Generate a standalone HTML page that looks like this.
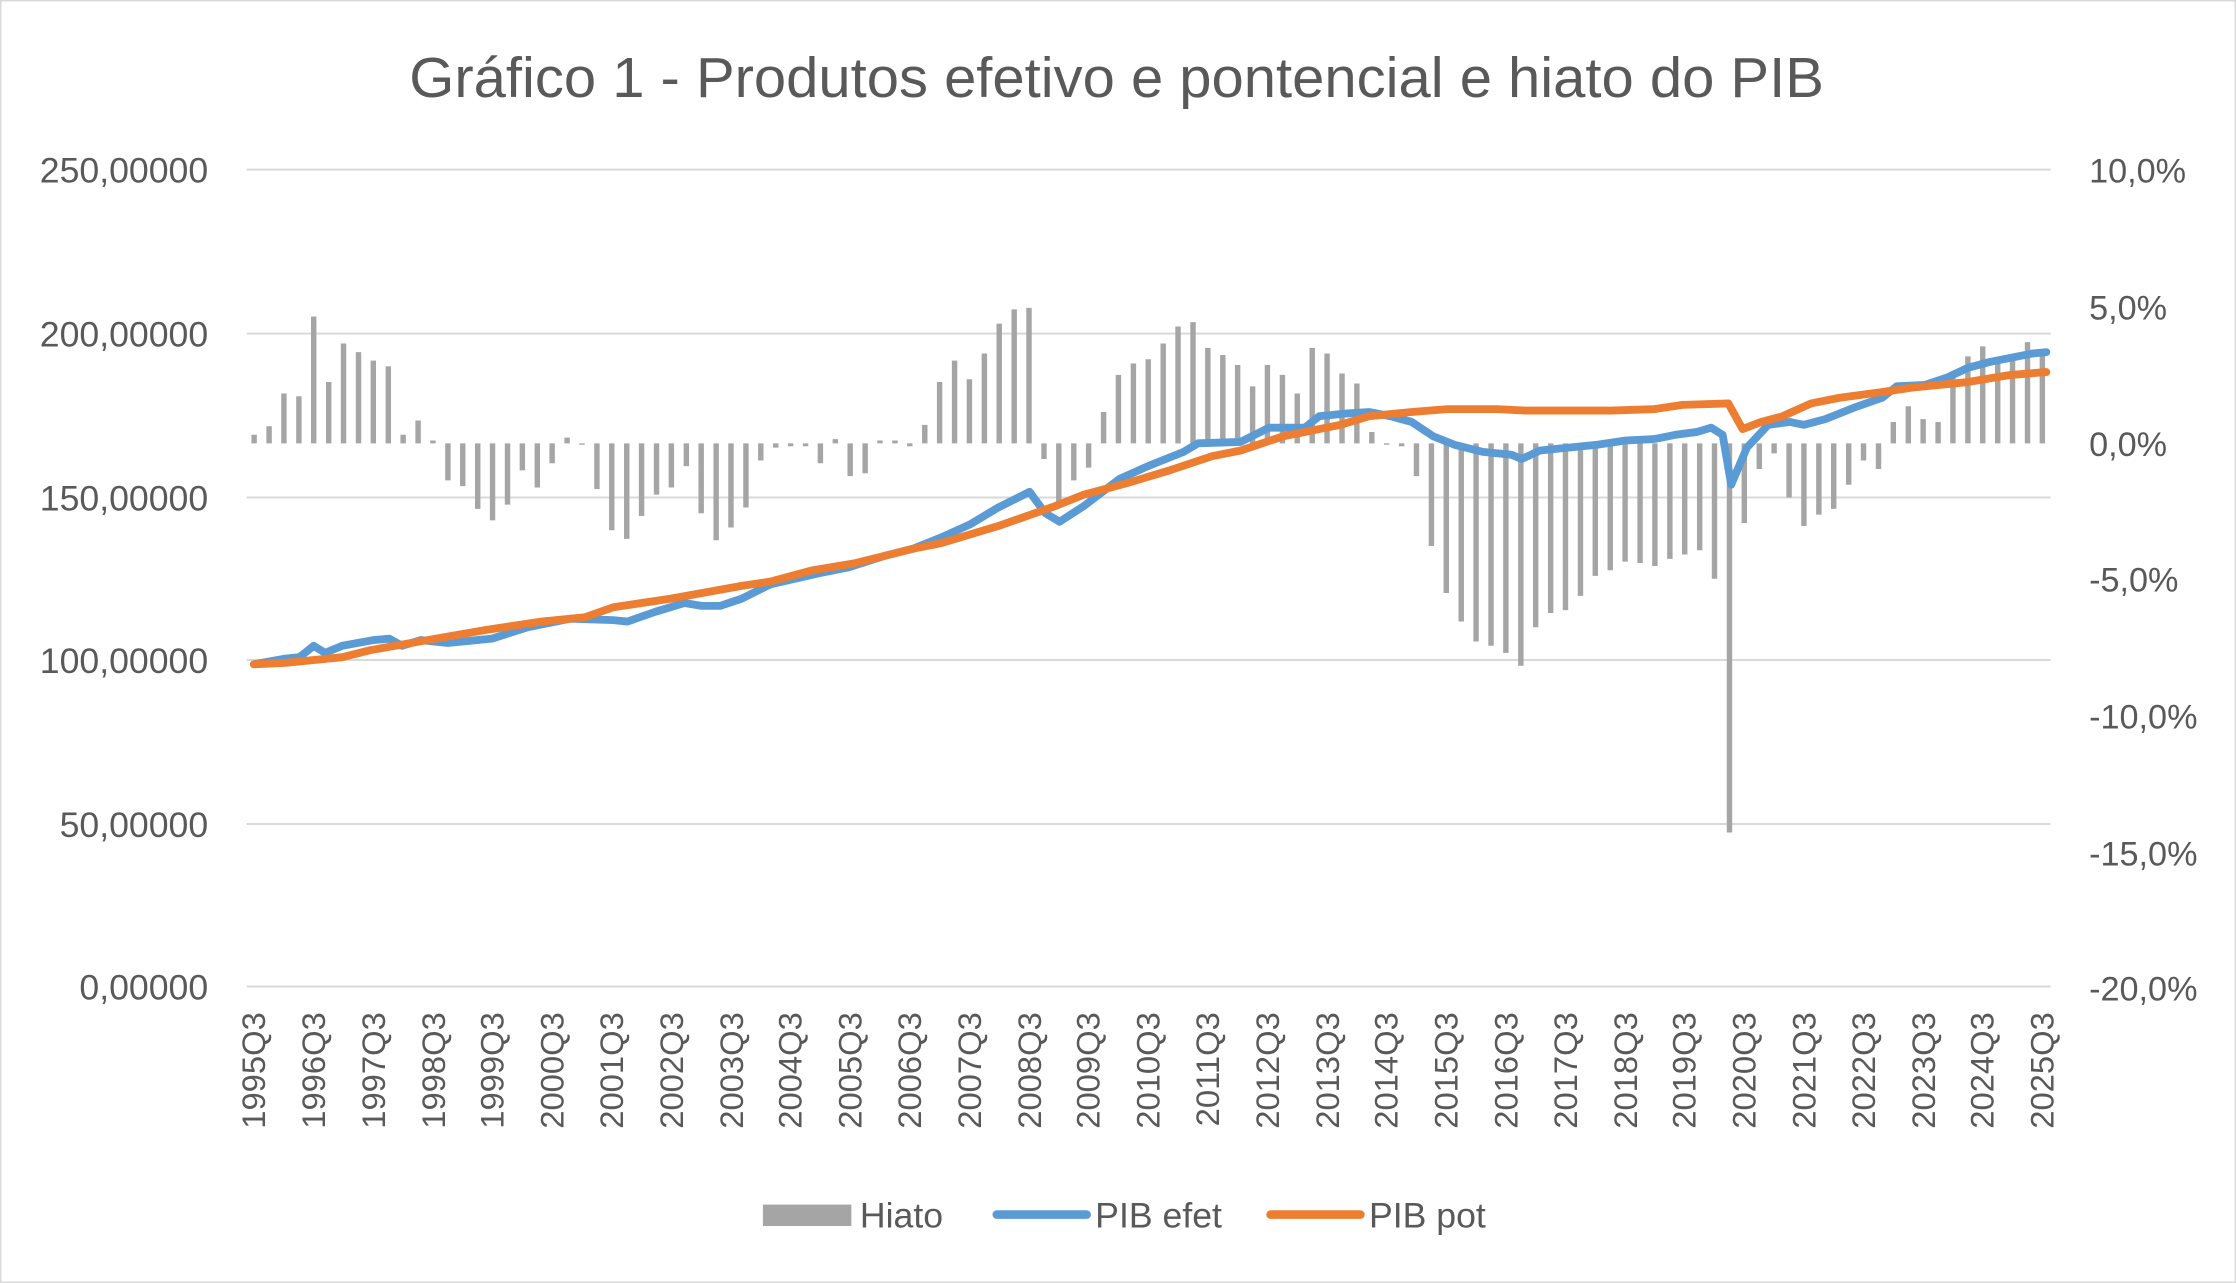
<!DOCTYPE html>
<html><head><meta charset="utf-8"><style>
html,body{margin:0;padding:0;background:#fff}
svg{display:block}
text{font-family:"Liberation Sans",sans-serif;fill:#595959}
</style></head><body>
<svg width="2236" height="1283" viewBox="0 0 1568 900" preserveAspectRatio="none" xmlns="http://www.w3.org/2000/svg">
<rect x="0.5" y="0.5" width="1567" height="899" fill="#fff" stroke="#d9d9d9" stroke-width="1"/>
<text x="783" y="68" text-anchor="middle" font-size="40" textLength="992" lengthAdjust="spacingAndGlyphs">Gráfico 1 - Produtos efetivo e pontencial e hiato do PIB</text>
<g stroke="#d9d9d9" stroke-width="1.4">
<line x1="173" y1="119" x2="1438" y2="119"/>
<line x1="173" y1="234" x2="1438" y2="234"/>
<line x1="173" y1="349" x2="1438" y2="349"/>
<line x1="173" y1="463" x2="1438" y2="463"/>
<line x1="173" y1="578" x2="1438" y2="578"/>
<line x1="173" y1="692" x2="1438" y2="692"/>
</g>
<g font-size="25" text-anchor="end">
<text x="146" y="128">250,00000</text>
<text x="146" y="243">200,00000</text>
<text x="146" y="358">150,00000</text>
<text x="146" y="472">100,00000</text>
<text x="146" y="587">50,00000</text>
<text x="146" y="701">0,00000</text>
</g>
<g font-size="24">
<text x="1465" y="128">10,0%</text>
<text x="1465" y="224">5,0%</text>
<text x="1465" y="320">0,0%</text>
<text x="1465" y="415">-5,0%</text>
<text x="1465" y="511">-10,0%</text>
<text x="1465" y="607">-15,0%</text>
<text x="1465" y="702">-20,0%</text>
</g>
<path fill="none" stroke="#a5a5a5" stroke-width="3.8" d="M178.2 311V305M188.7 311V299M199.1 311V276M209.6 311V278M220 311V222M230.5 311V268M240.9 311V241M251.4 311V247M261.8 311V253M272.3 311V257M282.7 311V305M293.2 311V295M303.6 311V309M314.1 311V337M324.5 311V341M335 311V357M345.4 311V365M355.9 311V354M366.3 311V330M376.8 311V342M387.2 311V325M397.7 311V307M408.1 311V312M418.6 311V343M429 311V372M439.5 311V378M449.9 311V362M460.4 311V347M470.8 311V342M481.3 311V327M491.7 311V360M502.2 311V379M512.6 311V370M523.1 311V356M533.5 311V323M544 311V314M554.4 311V313M564.9 311V313M575.3 311V325M585.8 311V308M596.2 311V334M606.7 311V332M617.1 311V309M627.6 311V309M638 311V313M648.5 311V298M658.9 311V268M669.4 311V253M679.8 311V266M690.3 311V248M700.7 311V227M711.2 311V217M721.6 311V216M732.1 311V322M742.5 311V356M753 311V337M763.4 311V328M773.9 311V289M784.3 311V263M794.8 311V255M805.2 311V252M815.7 311V241M826.1 311V229M836.6 311V226M847 311V244M857.5 311V249M867.9 311V256M878.4 311V271M888.8 311V256M899.3 311V263M909.7 311V276M920.2 311V244M930.6 311V248M941.1 311V262M951.5 311V269M962 311V303M972.4 311V312M982.9 311V313M993.3 311V334M1003.8 311V383M1014.2 311V416M1024.7 311V436M1035.1 311V450M1045.6 311V453M1056 311V458M1066.5 311V467M1076.9 311V440M1087.4 311V430M1097.8 311V428M1108.3 311V418M1118.7 311V404M1129.2 311V400M1139.6 311V394M1150.1 311V395M1160.5 311V397M1171 311V392M1181.4 311V389M1191.9 311V386M1202.3 311V406M1212.8 311V584M1223.2 311V367M1233.7 311V329M1244.1 311V318M1254.6 311V349M1265 311V369M1275.5 311V361M1285.9 311V357M1296.4 311V340M1306.8 311V323M1317.3 311V329M1327.7 311V296M1338.2 311V285M1348.6 311V294M1359.1 311V296M1369.5 311V263M1380 311V250M1390.4 311V243M1400.9 311V252M1411.3 311V249M1421.8 311V240M1432.2 311V248"/>
<polyline fill="none" stroke="#5b9bd5" stroke-width="5.5" stroke-linejoin="round" stroke-linecap="round" points="178,466 200,462 210,461 220,453 228,458 240,453 262,449 273,448 282,453 295,449 314,451 345,448 370,440 400,434 430,435 440,436 460,429 480,423 492,425 505,425 520,420 540,410 575,402 595,398 620,390 640,385 660,377 680,368 700,356 722,345 733,360 743,366 760,355 785,336 805,327 830,317 840,311 870,310 890,300 905,300 915,300 925,292 945,290 960,289 975,292 990,296 1005,306 1020,312 1040,317 1060,319 1067,322 1080,316 1100,314 1120,312 1140,309 1160,308 1175,305 1190,303 1200,300 1208,305 1214,340 1225,314 1240,298 1255,296 1265,298 1280,294 1300,286 1320,279 1330,271 1350,270 1365,265 1380,258 1395,254 1410,251 1425,248 1435,247"/>
<polyline fill="none" stroke="#ed7d31" stroke-width="5.5" stroke-linejoin="round" stroke-linecap="round" points="178,466 200,465 240,461 260,456 300,449 340,442 380,436 410,433 430,426 470,420 520,411 540,408 570,400 600,395 640,385 660,381 700,369 740,355 760,347 790,339 820,330 850,320 870,316 900,306 940,298 960,292 990,289 1015,287 1050,287 1070,288 1130,288 1160,287 1180,284 1212,283 1222,301 1235,296 1250,292 1270,283 1290,279 1320,275 1340,272 1380,268 1410,263 1435,261"/>
<g font-size="23" text-anchor="end">
<text transform="translate(186,710) rotate(-90)">1995Q3</text>
<text transform="translate(228,710) rotate(-90)">1996Q3</text>
<text transform="translate(270,710) rotate(-90)">1997Q3</text>
<text transform="translate(312,710) rotate(-90)">1998Q3</text>
<text transform="translate(353,710) rotate(-90)">1999Q3</text>
<text transform="translate(395,710) rotate(-90)">2000Q3</text>
<text transform="translate(437,710) rotate(-90)">2001Q3</text>
<text transform="translate(479,710) rotate(-90)">2002Q3</text>
<text transform="translate(521,710) rotate(-90)">2003Q3</text>
<text transform="translate(562,710) rotate(-90)">2004Q3</text>
<text transform="translate(604,710) rotate(-90)">2005Q3</text>
<text transform="translate(646,710) rotate(-90)">2006Q3</text>
<text transform="translate(688,710) rotate(-90)">2007Q3</text>
<text transform="translate(730,710) rotate(-90)">2008Q3</text>
<text transform="translate(771,710) rotate(-90)">2009Q3</text>
<text transform="translate(813,710) rotate(-90)">2010Q3</text>
<text transform="translate(855,710) rotate(-90)">2011Q3</text>
<text transform="translate(897,710) rotate(-90)">2012Q3</text>
<text transform="translate(939,710) rotate(-90)">2013Q3</text>
<text transform="translate(980,710) rotate(-90)">2014Q3</text>
<text transform="translate(1022,710) rotate(-90)">2015Q3</text>
<text transform="translate(1064,710) rotate(-90)">2016Q3</text>
<text transform="translate(1106,710) rotate(-90)">2017Q3</text>
<text transform="translate(1148,710) rotate(-90)">2018Q3</text>
<text transform="translate(1189,710) rotate(-90)">2019Q3</text>
<text transform="translate(1231,710) rotate(-90)">2020Q3</text>
<text transform="translate(1273,710) rotate(-90)">2021Q3</text>
<text transform="translate(1315,710) rotate(-90)">2022Q3</text>
<text transform="translate(1357,710) rotate(-90)">2023Q3</text>
<text transform="translate(1398,710) rotate(-90)">2024Q3</text>
<text transform="translate(1440,710) rotate(-90)">2025Q3</text>
</g>
<rect x="535" y="845" width="62" height="15" fill="#a5a5a5"/>
<text x="603" y="861" font-size="25">Hiato</text>
<line x1="699" y1="852" x2="762" y2="852" stroke="#5b9bd5" stroke-width="6" stroke-linecap="round"/>
<text x="768" y="861" font-size="25">PIB efet</text>
<line x1="891" y1="852" x2="954" y2="852" stroke="#ed7d31" stroke-width="6" stroke-linecap="round"/>
<text x="960" y="861" font-size="25">PIB pot</text>
</svg>
</body></html>
